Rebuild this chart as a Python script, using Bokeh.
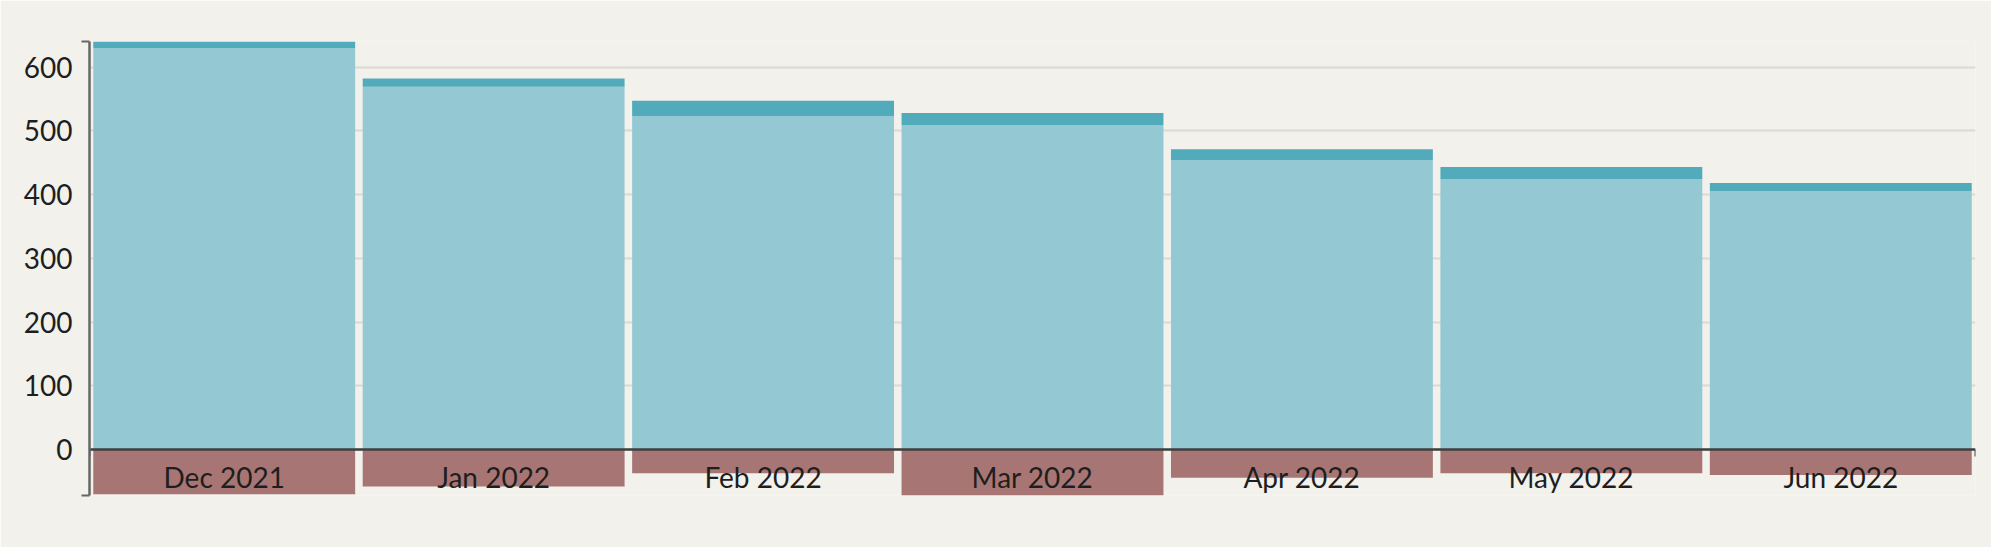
from bokeh.plotting import figure
from bokeh.models import Range1d, FixedTicker
from bokeh.embed import file_html
from bokeh.resources import INLINE

# ---- data ----
months = ["Dec 2021", "Jan 2022", "Feb 2022", "Mar 2022", "Apr 2022", "May 2022", "Jun 2022"]
base_values = [630, 569, 523, 509, 454, 424, 405]
top_values = [10, 13, 24, 19, 17, 19, 13]
negative_values = [-70, -58, -37, -72, -44, -37, -40]
y_ticks = [0, 100, 200, 300, 400, 500, 600]

idx = list(range(len(months)))
totals = [b + t for b, t in zip(base_values, top_values)]
y_low = min(negative_values)
y_high = max(totals)
x_low = -0.5
x_high = len(months) - 0.5

BG = "#F2F1EC"
LIGHT = "#94C8D3"
DARK = "#52ABBB"
NEG = "#A77674"
FONT = "Lato"

p = figure(
    width=1991, height=547,
    x_range=Range1d(x_low, x_high), y_range=Range1d(y_low, y_high),
    output_backend="svg", toolbar_location=None,
    min_border_left=89, min_border_right=16, min_border_top=41, min_border_bottom=52,
    background_fill_color=BG, border_fill_color=BG, outline_line_color=None,
)

bar_w = 0.972
p.vbar(x=idx, bottom=0, top=base_values, width=bar_w, fill_color=LIGHT, line_color=None)
p.vbar(x=idx, bottom=base_values, top=totals, width=bar_w, fill_color=DARK, line_color=None)
p.vbar(x=idx, bottom=negative_values, top=0, width=bar_w, fill_color=NEG, line_color=None)

# x axis drawn at y = 0
xa = p.xaxis[0]
xa.fixed_location = 0
xa.ticker = FixedTicker(ticks=idx, minor_ticks=[x_low, x_high])
xa.major_label_overrides = {i: m for i, m in zip(idx, months)}
xa.axis_line_color = "#3F3F3F"
xa.axis_line_width = 2.5
xa.major_tick_out = 0
xa.major_tick_in = 0
xa.minor_tick_out = 7
xa.minor_tick_in = 0
xa.minor_tick_line_color = "#444444"
xa.minor_tick_line_width = 2
xa.major_label_text_font = FONT
xa.major_label_text_font_size = "28px"
xa.major_label_text_color = "#1E1E1E"
xa.major_label_standoff = 3

# y axis
ya = p.yaxis[0]
ya.ticker = FixedTicker(ticks=y_ticks, minor_ticks=[y_low, y_high])
ya.axis_line_color = "#666666"
ya.axis_line_width = 2.5
ya.major_tick_out = 0
ya.major_tick_in = 0
ya.minor_tick_out = 8
ya.minor_tick_in = 0
ya.minor_tick_line_color = "#666666"
ya.minor_tick_line_width = 2
ya.major_label_text_font = FONT
ya.major_label_text_font_size = "28px"
ya.major_label_text_color = "#1E1E1E"
ya.major_label_standoff = 9

p.xgrid.visible = False
p.ygrid.ticker = FixedTicker(ticks=y_ticks)
p.ygrid.grid_line_color = "#DCDAD4"
p.ygrid.grid_line_width = 2

open("out.html", "w").write(file_html(p, INLINE))
